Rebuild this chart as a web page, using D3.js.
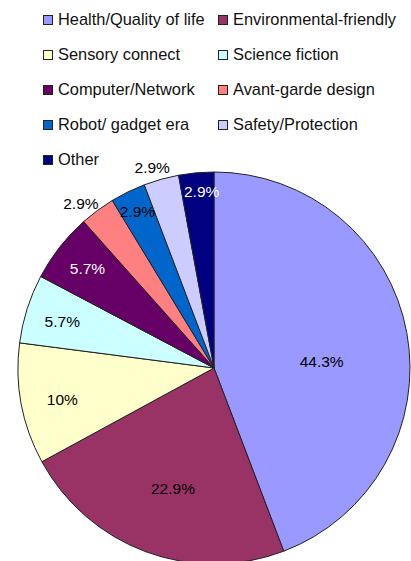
<!DOCTYPE html>
<html>
<head>
<meta charset="utf-8">
<script src="https://cdn.jsdelivr.net/npm/d3@7"></script>
<style>
  html, body { margin: 0; padding: 0; background: #fff; }
  svg { display: block; font-family: "Liberation Sans", Arial, sans-serif; }
</style>
</head>
<body>
<svg id="chart" width="411" height="561"></svg>
<script>
// Survey answers, share of responses (%)
const categories = [
  "Health/Quality of life", "Environmental-friendly", "Sensory connect",
  "Science fiction", "Computer/Network", "Avant-garde design",
  "Robot/ gadget era", "Safety/Protection", "Other"
];
const shares = [44.3, 22.9, 10, 5.7, 5.7, 2.9, 2.9, 2.9, 2.9];
const colors = ["#9999FF", "#993366", "#FFFFCC", "#CCFFFF", "#660066",
                "#FF8080", "#0066CC", "#CCCCFF", "#000080"];

// Label placement per slice: distance (fraction of radius), angular nudge (degrees), ink colour
const labelRadius = [0.55, 0.65, 0.79, 0.81, 0.82, 1.08, 0.89, 1.07, 0.90];
const labelNudge = [7, -1.5, -1, -0.5, 0, -2.5, 0, -1.5, 1.2];
const labelInk = ["#000", "#000", "#000", "#000", "#fff", "#000", "#000", "#000", "#fff"];

const svg = d3.select("#chart");
const cx = 214, cy = 368, R = 196;

const pie = d3.pie().sort(null).value(d => d.v);
const data = categories.map((c, i) => ({ c, v: shares[i], i }));
const arcs = pie(data);
const arc = d3.arc().innerRadius(0).outerRadius(R);

const g = svg.append("g").attr("transform", `translate(${cx},${cy})`);
g.selectAll("path.slice")
  .data(arcs)
  .join("path")
  .attr("class", "slice")
  .attr("d", arc)
  .attr("fill", d => colors[d.data.i])
  .attr("stroke", "#222")
  .attr("stroke-width", 1);

g.selectAll("text.lbl")
  .data(arcs)
  .join("text")
  .attr("class", "lbl")
  .attr("transform", d => {
    const r = R * labelRadius[d.data.i];
    const a = (d.startAngle + d.endAngle) / 2 + labelNudge[d.data.i] * Math.PI / 180;
    return `translate(${r * Math.sin(a)},${-r * Math.cos(a)})`;
  })
  .attr("text-anchor", "middle")
  .attr("dy", "0.35em")
  .attr("font-size", 15.5)
  .attr("fill", d => labelInk[d.data.i])
  .text(d => d.data.v + "%");

// Legend: two columns, five rows
const legend = svg.append("g");
const item = legend.selectAll("g.item")
  .data(categories)
  .join("g")
  .attr("class", "item")
  .attr("transform", (d, i) => `translate(${i % 2 === 0 ? 43 : 218},${25 + Math.floor(i / 2) * 35})`);

item.append("rect")
  .attr("x", 0.5).attr("y", -9.5)
  .attr("width", 9).attr("height", 9)
  .attr("fill", (d, i) => colors[i])
  .attr("stroke", "#222")
  .attr("stroke-width", 1);

item.append("text")
  .attr("x", 15)
  .attr("y", 0)
  .attr("font-size", 16.4)
  .attr("fill", "#111")
  .text(d => d);
</script>
</body>
</html>
